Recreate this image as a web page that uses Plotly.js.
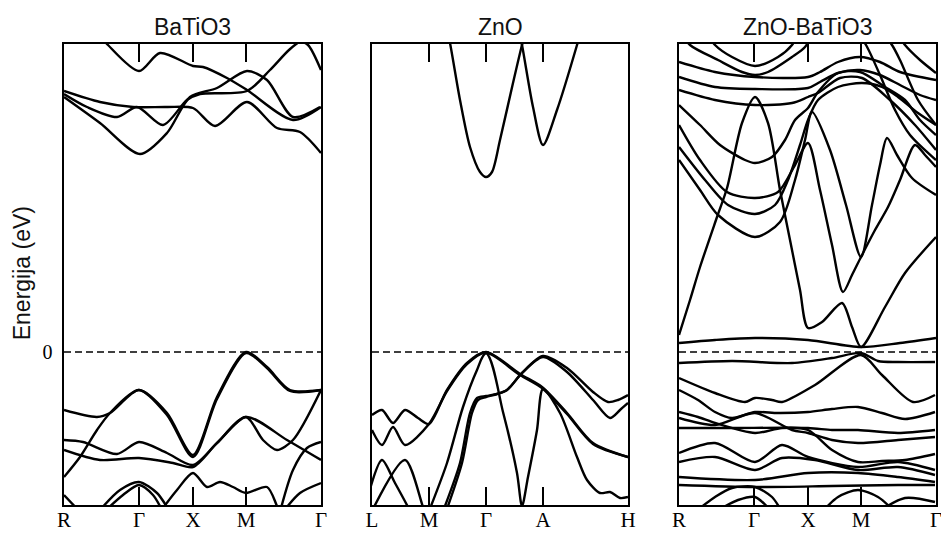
<!DOCTYPE html>
<html><head><meta charset="utf-8">
<script src="https://cdn.plot.ly/plotly-3.0.1.min.js"></script>
<style>html,body{margin:0;padding:0;background:#fff}#chart{width:941px;height:533px}</style>
</head><body><div id="chart"></div>
<script>
// ---- data (k-path distance in arbitrary units, energy in eV) ----
const panelTitles = ['BaTiO3', 'ZnO', 'ZnO-BaTiO3'];
const tickK1 = [0, 75, 129, 182, 257];
const tickLabels1 = ['R', 'Γ', 'X', 'M', 'Γ'];
const tickK2 = [0, 57, 114, 171, 256];
const tickLabels2 = ['L', 'M', 'Γ', 'A', 'H'];
const tickK3 = [0, 75, 129, 182, 257];
const tickLabels3 = ['R', 'Γ', 'X', 'M', 'Γ'];
const kMax = [257, 256, 257];
const energyRange = [-1.53, 3.08];
const fermiLevel = 0;
const yTickVals = [0];
const yTickText = ['0'];
const yTitle = 'Energija (eV)';

const bandsBaTiO3 = [
  [[0,2.55],[36,2.29],[76,1.98],[103,2.19],[126,2.55],[153,2.64],[183,2.81],[203,2.72],[229,2.35],[256,2.45]],
  [[0,2.58],[23,2.45],[53,2.35],[73,2.45],[99,2.27],[123,2.52],[136,2.58],[183,2.61],[206,2.82],[225,3.02],[236,3.10],[244,3.07],[257,2.82]],
  [[0,2.61],[36,2.50],[69,2.45],[103,2.45],[129,2.44],[151,2.26],[183,2.50],[213,2.24],[236,2.20],[257,1.99]],
  [[29,3.25],[44,3.07],[75,2.81],[96,2.99],[129,2.86],[139,2.85],[163,2.74],[183,2.62],[229,2.32],[257,2.45]],
  [[0,-0.58],[33,-0.65],[46,-0.61],[75,-0.38],[103,-0.61],[129,-1.03],[153,-0.45],[182,0.0],[203,-0.15],[226,-0.38],[257,-0.38]],
  [[0,-0.88],[19,-0.90],[53,-1.02],[75,-0.90],[103,-1.01],[129,-1.13],[153,-0.91],[182,-0.65],[199,-0.88],[213,-0.98],[229,-0.88],[257,-0.38]],
  [[0,-0.98],[36,-1.08],[75,-1.06],[109,-1.11],[129,-1.15],[153,-0.91],[182,-0.65],[223,-0.88],[257,-1.08]],
  [[0,-1.25],[16,-1.05],[33,-0.78],[46,-0.61],[75,-0.38],[103,-0.63],[129,-1.05],[153,-0.47],[182,-0.01],[203,-0.16],[226,-0.39],[257,-0.38]],
  [[36,-1.58],[56,-1.38],[75,-1.30],[93,-1.41],[103,-1.55],[106,-1.60]],
  [[40,-1.60],[59,-1.43],[75,-1.33],[89,-1.43],[99,-1.60]],
  [[96,-1.60],[113,-1.38],[129,-1.21],[143,-1.35],[156,-1.30],[169,-1.35],[182,-1.41],[203,-1.35],[213,-1.54],[218,-1.65]],
  [[216,-1.60],[229,-1.18],[243,-0.96],[257,-0.90]],
  [[219,-1.60],[236,-1.41],[257,-1.31]],
  [[0,-1.43],[16,-1.60]]
];

const bandsZnO = [
  [[73,3.32],[78,3.09],[88,2.52],[98,2.05],[108,1.80],[114,1.75],[120,1.80],[128,2.12],[141,2.69],[150,3.07],[155,3.25]],
  [[146,3.25],[150,3.07],[161,2.45],[171,2.07],[185,2.42],[205,3.07],[210,3.25]],
  [[0,-0.63],[10,-0.58],[21,-0.71],[33,-0.58],[46,-0.66],[57,-0.72],[75,-0.38],[95,-0.11],[114,0.0],[148,-0.22],[170,-0.35],[195,-0.61],[221,-0.91],[256,-1.05]],
  [[0,-0.78],[10,-0.93],[21,-0.75],[33,-0.93],[57,-0.72],[75,-0.39],[95,-0.12],[114,-0.01],[131,-0.60],[145,-1.21],[150,-1.54],[156,-1.25],[165,-0.78],[171,-0.37],[188,-0.61],[205,-1.05],[215,-1.28],[228,-1.41],[238,-1.40],[248,-1.46],[256,-1.45]],
  [[73,-1.54],[88,-1.11],[98,-0.61],[105,-0.46],[114,-0.44],[125,-0.42],[135,-0.38],[150,-0.21],[171,-0.04],[195,-0.16],[221,-0.40],[236,-0.50],[246,-0.48],[256,-0.43]],
  [[76,-1.54],[90,-1.11],[100,-0.61],[106,-0.48],[114,-0.45],[125,-0.42],[135,-0.38],[150,-0.21],[171,-0.05],[195,-0.20],[221,-0.48],[238,-0.66],[248,-0.58],[256,-0.51]],
  [[59,-1.54],[75,-1.11],[91,-0.55],[105,-0.18],[114,-0.01],[148,-0.23],[170,-0.36],[195,-0.62],[221,-0.92],[256,-1.05]],
  [[-2,-1.37],[10,-1.08],[23,-1.31],[36,-1.55],[41,-1.65]],
  [[-2,-1.63],[33,-1.08],[51,-1.55],[55,-1.65]]
];

const bandsZnOBaTiO3 = [
  [[0,0.09],[36,0.12],[76,0.14],[129,0.12],[182,0.05],[221,0.09],[257,0.14]],
  [[0,0.17],[11,0.52],[21,0.85],[38,1.35],[48,1.64],[63,2.29],[76,2.55],[89,2.29],[101,1.62],[111,1.12],[121,0.62],[129,0.24],[143,0.30],[163,0.49],[173,0.25],[182,0.05],[206,0.45],[226,0.79],[257,1.15]],
  [[0,2.27],[21,1.92],[48,1.60],[76,1.54],[99,1.60],[116,1.87],[129,2.09],[141,1.62],[153,1.07],[164,0.60],[173,0.77],[182,0.95],[196,1.22],[209,1.45],[221,1.72],[236,2.07],[246,1.97],[257,1.85]],
  [[0,1.92],[21,1.62],[39,1.37],[76,1.15],[101,1.30],[116,1.72],[126,2.12],[133,2.40],[151,2.02],[167,1.47],[182,0.95],[193,1.47],[201,1.87],[208,2.14],[218,1.97],[233,1.74],[257,1.57]],
  [[0,2.05],[26,1.72],[49,1.47],[76,1.38],[96,1.47],[109,1.72],[121,2.07],[129,2.32],[139,2.52],[159,2.65],[183,2.69],[203,2.65],[219,2.55],[239,2.39],[257,2.27]],
  [[0,2.47],[21,2.27],[41,2.07],[66,1.92],[76,1.89],[93,1.95],[106,2.12],[116,2.32],[129,2.44],[139,2.60],[159,2.79],[181,2.80],[206,2.65],[226,2.52],[241,2.32],[257,2.17]],
  [[0,2.62],[36,2.52],[76,2.47],[113,2.49],[129,2.55],[139,2.59],[161,2.74],[183,2.74],[211,2.52],[236,2.27],[257,2.02]],
  [[0,2.75],[36,2.65],[76,2.63],[129,2.64],[141,2.70],[159,2.79],[181,2.82],[201,2.77],[221,2.67],[241,2.57],[257,2.52]],
  [[0,2.90],[36,2.80],[76,2.75],[129,2.75],[141,2.80],[159,2.90],[181,2.95],[201,2.90],[221,2.80],[257,2.72]],
  [[0,3.22],[11,3.07],[39,2.92],[63,2.80],[76,2.77],[89,2.80],[113,2.95],[126,3.05],[136,3.22]],
  [[26,3.22],[36,3.07],[53,2.95],[76,2.86],[99,2.95],[113,3.07],[121,3.22]],
  [[201,3.22],[213,3.07],[221,2.92],[239,2.52],[257,2.27]],
  [[216,3.22],[226,3.07],[241,2.92],[257,2.79]],
  [[176,3.22],[187,3.07],[201,2.77],[216,2.42],[231,2.17],[257,1.92]],
  [[0,-0.11],[53,-0.09],[113,-0.11],[153,-0.06],[182,-0.01],[199,-0.09],[219,-0.10],[256,-0.10]],
  [[0,-0.26],[36,-0.41],[66,-0.50],[76,-0.46],[93,-0.48],[103,-0.50],[136,-0.33],[182,-0.03],[203,-0.23],[234,-0.50],[256,-0.43]],
  [[0,-0.38],[19,-0.48],[36,-0.60],[53,-0.66],[76,-0.60],[99,-0.61],[129,-0.60],[153,-0.57],[179,-0.55],[203,-0.61],[226,-0.67],[256,-0.60]],
  [[0,-0.60],[19,-0.65],[36,-0.71],[76,-0.81],[103,-0.76],[129,-0.78],[153,-0.98],[179,-1.10],[203,-1.09],[226,-1.08],[256,-1.02]],
  [[0,-0.66],[36,-0.73],[76,-0.61],[113,-0.78],[129,-0.81],[153,-0.88],[179,-0.91],[219,-0.88],[256,-0.85]],
  [[0,-0.76],[53,-0.76],[129,-0.76],[153,-0.78],[179,-0.78],[219,-0.81],[256,-0.78]],
  [[0,-1.01],[36,-0.91],[76,-1.10],[103,-0.93],[129,-1.05],[179,-1.15],[219,-1.10],[256,-1.18]],
  [[0,-1.10],[36,-1.05],[76,-1.18],[103,-1.06],[136,-1.08],[179,-1.18],[219,-1.15],[256,-1.23]],
  [[0,-1.25],[76,-1.28],[129,-1.21],[179,-1.21],[219,-1.25],[256,-1.30]],
  [[0,-1.33],[76,-1.35],[153,-1.34],[219,-1.33],[256,-1.33]],
  [[16,-1.60],[36,-1.45],[53,-1.36],[76,-1.35],[93,-1.45],[103,-1.60]],
  [[36,-1.60],[59,-1.48],[76,-1.45],[93,-1.60]],
  [[143,-1.60],[159,-1.45],[179,-1.38],[199,-1.45],[216,-1.60]],
  [[199,-1.60],[226,-1.46],[256,-1.50]]
];

// ---- build ----
const panels = [
  {bands: bandsBaTiO3, ticks: tickK1, labels: tickLabels1},
  {bands: bandsZnO, ticks: tickK2, labels: tickLabels2},
  {bands: bandsZnOBaTiO3, ticks: tickK3, labels: tickLabels3}
];
const domains = [[0, 0.2947], [0.3532, 0.6468], [0.7053, 1]];
const traces = [];
const layout = {
  width: 941, height: 533,
  margin: {l: 64, r: 5, t: 44, b: 28},
  paper_bgcolor: '#fff', plot_bgcolor: '#fff',
  showlegend: false,
  annotations: []
};
const serif = 'Liberation Serif, Times New Roman, serif';
const sans = 'Liberation Sans, Arial, Helvetica, sans-serif';
panels.forEach((p, i) => {
  const n = i === 0 ? '' : String(i + 1);
  const xa = 'x' + n, ya = 'y' + n;
  traces.push({
    x: [0, kMax[i]], y: [fermiLevel, fermiLevel], mode: 'lines',
    line: {color: '#000', width: 1.5, dash: '7px,4px'},
    xaxis: xa, yaxis: ya, hoverinfo: 'skip'
  });
  p.bands.forEach(b => {
    traces.push({
      x: b.map(q => q[0]), y: b.map(q => q[1]), mode: 'lines',
      line: {color: '#000', width: 2.4, shape: 'spline', smoothing: 0.8},
      xaxis: xa, yaxis: ya, hoverinfo: 'skip'
    });
  });
  layout['xaxis' + n] = {
    domain: domains[i], range: [0, kMax[i]], anchor: ya,
    tickmode: 'array', tickvals: p.ticks, ticktext: p.labels,
    ticks: 'inside', ticklen: 18, tickwidth: 1.3, tickcolor: '#000',
    ticklabelstandoff: -5, ticklabeloverflow: 'allow',
    showline: true, linecolor: '#000', linewidth: 1.6, mirror: 'ticks',
    showgrid: false, zeroline: false, fixedrange: true,
    tickfont: {family: serif, size: 21, color: '#000'}
  };
  layout['yaxis' + n] = {
    domain: [0, 1], range: energyRange, anchor: xa,
    tickmode: 'array', tickvals: yTickVals, ticktext: yTickText,
    showticklabels: i === 0,
    ticks: i === 0 ? 'outside' : '', ticklen: 6, tickcolor: 'rgba(0,0,0,0)',
    showline: true, linecolor: '#000', linewidth: 1.6, mirror: true,
    showgrid: false, zeroline: false, fixedrange: true,
    tickfont: {family: serif, size: 20, color: '#000'}
  };
  layout.annotations.push({
    text: panelTitles[i], xref: xa + ' domain', yref: 'paper',
    x: 0.5, y: 1.037, xanchor: 'center', yanchor: 'middle', showarrow: false,
    font: {family: sans, size: 23, color: '#111'}
  });
});
layout.annotations.push({
  text: yTitle, xref: 'paper', yref: 'paper', x: -0.048, y: 0.503,
  xanchor: 'center', yanchor: 'middle', textangle: -90, showarrow: false,
  font: {family: sans, size: 23, color: '#111'}
});
Plotly.newPlot('chart', traces, layout, {staticPlot: true, displayModeBar: false});
</script>
</body></html>
